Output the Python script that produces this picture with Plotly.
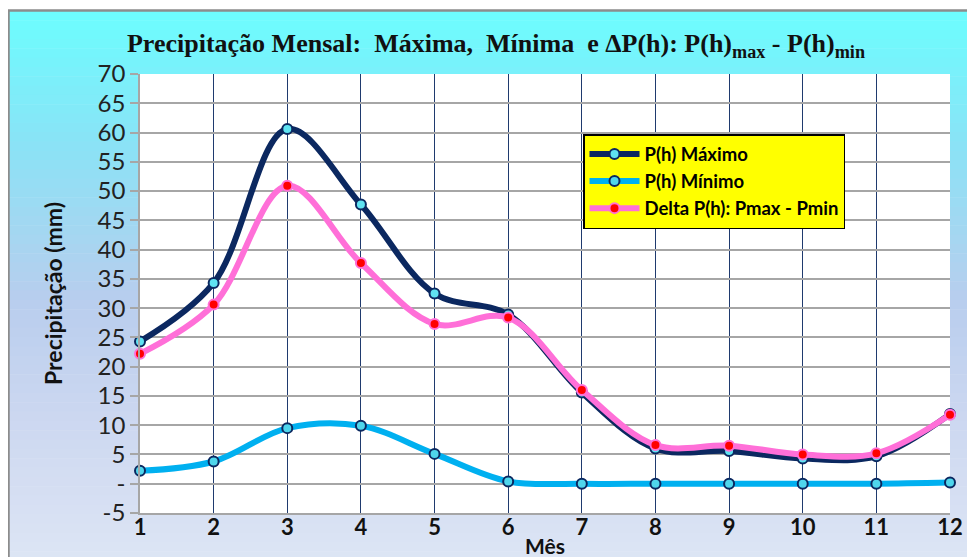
import plotly.graph_objects as go
import numpy as np

# ---- data ----
meses = [1, 2, 3, 4, 5, 6, 7, 8, 9, 10, 11, 12]
p_max = [24.3, 34.3, 60.6, 47.7, 32.5, 28.9, 15.6, 6.0, 5.6, 4.3, 4.7, 11.9]
p_min = [2.2, 3.8, 9.5, 9.9, 5.1, 0.4, 0.0, 0.0, 0.0, 0.0, 0.0, 0.2]
delta = [22.2, 30.6, 50.9, 37.7, 27.3, 28.4, 16.0, 6.6, 6.5, 5.0, 5.2, 11.8]
y_ticks = [-5, 0, 5, 10, 15, 20, 25, 30, 35, 40, 45, 50, 55, 60, 65, 70]
y_ticktext = ["-5", "-", "5", "10", "15", "20", "25", "30", "35", "40", "45",
              "50", "55", "60", "65", "70"]

W, H = 975, 557
OFF = 8  # page body margin: screen px = figure px + 8
# target plot box in screen pixels
PL, PR, PT, PB = 140, 950, 74, 513
ML, MT = PL - OFF, PT - OFF
MR, MB = W - (PR - OFF), H - (PB - OFF)

fig = go.Figure()

fig.add_trace(go.Scatter(
    x=meses, y=p_max, name="P(h) Máximo", mode="lines+markers",
    line=dict(color="#0b2860", width=6, shape="spline", smoothing=1.0),
    marker=dict(size=10, color="#5fe3f2", line=dict(color="#0b2860", width=2)),
    cliponaxis=False))
fig.add_trace(go.Scatter(
    x=meses, y=p_min, name="P(h) Mínimo", mode="lines+markers",
    line=dict(color="#00b0f0", width=6, shape="spline", smoothing=1.0),
    marker=dict(size=10, color="#4fd6ec", line=dict(color="#0b2860", width=2)),
    cliponaxis=False))
fig.add_trace(go.Scatter(
    x=meses, y=delta, name="Delta P(h): Pmax - Pmin", mode="lines+markers",
    line=dict(color="#ff6fd8", width=6, shape="spline", smoothing=1.0),
    marker=dict(size=10, color="#ff0000", line=dict(color="#ff6fd8", width=2)),
    cliponaxis=False))

# ---- helpers: screen px -> paper coords ----
def py2paper(py):
    return (PB - py) / (PB - PT)

def px2paper(px):
    return (px - PL) / (PR - PL)

stops_y = [10, 150, 300, 420, 565]
stops_c = [(108, 254, 255), (140, 226, 246), (185, 206, 238), (205, 216, 241), (222, 230, 245)]
shapes = []
n = 60
edges = np.linspace(11, 570, n + 1)
for i in range(n):
    mid = (edges[i] + edges[i + 1]) / 2
    c = [int(np.interp(mid, stops_y, [s[k] for s in stops_c])) for k in range(3)]
    shapes.append(dict(type="rect", xref="paper", yref="paper",
                       x0=px2paper(9), x1=px2paper(1000),
                       y0=py2paper(edges[i + 1] + 0.5), y1=py2paper(edges[i]),
                       fillcolor="rgb(%d,%d,%d)" % tuple(c), line=dict(width=0),
                       layer="below"))
# white plot area
shapes.append(dict(type="rect", xref="x domain", yref="y domain", x0=0, x1=1, y0=0, y1=1,
                   fillcolor="white", line=dict(width=0), layer="below"))
# outer frame
shapes.append(dict(type="rect", xref="paper", yref="paper",
                   x0=px2paper(8.5), x1=px2paper(1010), y0=py2paper(600), y1=py2paper(10.5),
                   fillcolor="rgba(0,0,0,0)", line=dict(color="#8c8c8c", width=2.5),
                   layer="above"))

fig.update_layout(
    width=W, height=H,
    margin=dict(l=ML, r=MR, t=MT, b=MB, autoexpand=False),
    paper_bgcolor="white",
    plot_bgcolor="rgba(0,0,0,0)",
    shapes=shapes,
    title=dict(
        text="Precipitação Mensal:  Máxima,  Mínima  e ΔP(h): P(h)<sub>max</sub> - P(h)<sub>min</sub>",
        font=dict(family="Liberation Serif", size=26, color="#111111", weight="bold"),
        x=px2paper(496), xanchor="center", xref="paper",
        y=1 - (43 - OFF) / H, yanchor="middle"),
    showlegend=True,
    legend=dict(
        x=px2paper(583), y=py2paper(134), xanchor="left", yanchor="top",
        bgcolor="#ffff00", bordercolor="#000000", borderwidth=1.5,
        font=dict(family="Lato", size=18.5, color="#000000", weight="bold"),
        tracegroupgap=0, itemwidth=50),
    xaxis=dict(
        range=[1, 12], tickvals=meses, ticktext=[str(m) for m in meses],
        automargin=False,
        showgrid=True, gridcolor="#1f3a6e", gridwidth=1.2,
        showline=True, linecolor="#a6a6a6", linewidth=1.5,
        ticks="", zeroline=False, ticklabelstandoff=-6,
        tickfont=dict(family="Lato", size=22, color="#111111", weight="bold"),
        title=dict(text="Mês", standoff=0,
                   font=dict(family="Lato", size=21, color="#111111", weight="bold"))),
    yaxis=dict(
        range=[-5, 70], tickvals=y_ticks, ticktext=y_ticktext,
        automargin=False,
        showgrid=True, gridcolor="#a6a6a6", gridwidth=1.5,
        showline=True, linecolor="#a6a6a6", linewidth=1.5,
        ticks="outside", ticklen=8, tickcolor="#a6a6a6", tickwidth=1.5,
        zeroline=False,
        tickfont=dict(family="Lato", size=24, color="#222222"),
        title=dict(text="Precipitação (mm)", standoff=29,
                   font=dict(family="Lato", size=23, color="#111111", weight="bold"))),
)

fig.write_html("out.html")
